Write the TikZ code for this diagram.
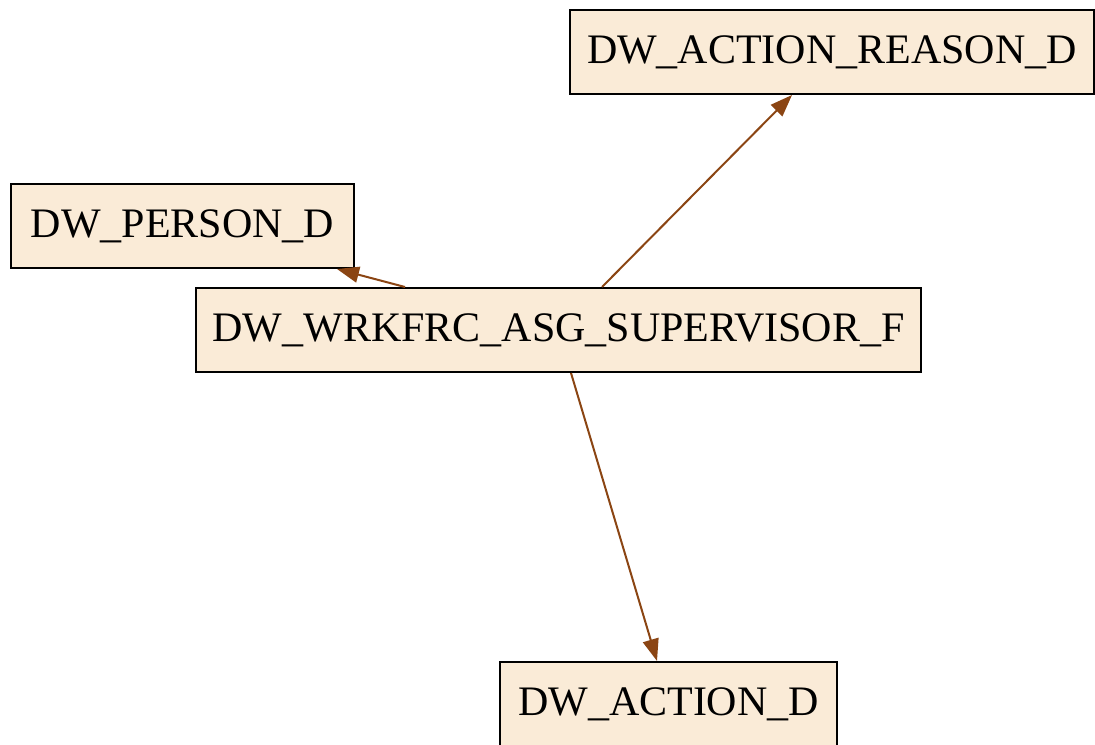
\documentclass[tikz,border=0pt]{standalone}
\usepackage{fontspec}
\setmainfont{Liberation Serif}
\usetikzlibrary{arrows.meta}
\definecolor{boxfill}{HTML}{FAEBD7}
\definecolor{edgecol}{HTML}{8B4513}
\tikzset{table/.style={draw=black, line width=1pt, fill=boxfill, inner sep=0pt,
  minimum height=42pt, font=\fontsize{21}{24}\selectfont},
  fk/.style={draw=edgecol, line width=1pt,
  -{Triangle[length=11pt,width=8pt,fill=edgecol]}}}

\begin{document}
\begin{tikzpicture}[x=0.5pt,y=-0.5pt]
      \useasboundingbox (0,0) rectangle (1095,744);

      \node [table, minimum width=262pt] (reason) at (832, 52) {DW\_ACTION\_REASON\_D};
      \node [table, minimum width=171.5pt] (person) at (182.5, 226) {DW\_PERSON\_D};
      \node [table, minimum width=362.5pt] (sup) at (558.5, 330) {DW\_WRKFRC\_ASG\_SUPERVISOR\_F};
      \node [table, minimum width=168.5pt] (action) at (668.5, 704) {DW\_ACTION\_D};

      \draw [fk] ([xshift=21.75pt]sup.north) -- ([xshift=-20pt]reason.south);
      \draw [fk] ([xshift=-76.75pt]sup.north) -- ([xshift=77.25pt]person.south);
      \draw [fk] ([xshift=6.25pt]sup.south) -- ([xshift=-5.75pt]action.north);
    \end{tikzpicture}
\end{document}
